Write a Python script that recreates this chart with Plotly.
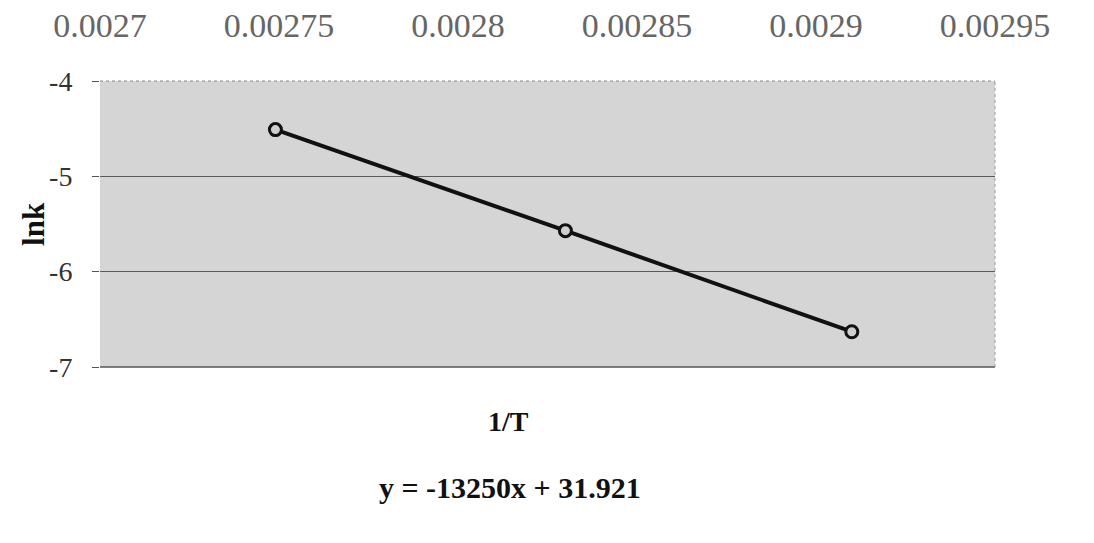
import plotly.graph_objects as go

inv_T = [0.002749, 0.00283, 0.00291]
ln_k = [-4.51, -5.57, -6.63]
x_ticks = [0.0027, 0.00275, 0.0028, 0.00285, 0.0029, 0.00295]
x_tick_labels = ["0.0027", "0.00275", "0.0028", "0.00285", "0.0029", "0.00295"]
y_ticks = [-7, -6, -5, -4]
y_tick_labels = ["-7", "-6", "-5", "-4"]
x_title = "1/T"
y_title = "lnk"
equation = "y = -13250x + 31.921"

fig = go.Figure()
fig.add_trace(go.Scatter(
    x=inv_T, y=ln_k, mode="lines+markers",
    line=dict(color="#111111", width=4),
    marker=dict(symbol="circle", size=12, color="#cfcfcf",
                line=dict(color="#111111", width=3)),
    showlegend=False,
))

serif = "Liberation Serif, Times New Roman, serif"
fig.update_layout(
    width=1094, height=543,
    margin=dict(l=92, r=107, t=73, b=184),
    paper_bgcolor="white",
    plot_bgcolor="#d5d5d5",
    font=dict(family=serif, color="#222"),
    xaxis=dict(
        side="top", range=[0.0027, 0.00295], automargin=False,
        tickvals=x_ticks, ticktext=x_tick_labels,
        tickfont=dict(family=serif, size=34, color="#666"),
        ticks="", ticklabelstandoff=36,
        showgrid=False, zeroline=False, showline=False,
    ),
    yaxis=dict(
        range=[-7, -4], tickvals=y_ticks, ticktext=y_tick_labels, automargin=False,
        tickfont=dict(family=serif, size=28, color="#333"),
        ticks="outside", ticklen=7, tickcolor="#555", ticklabelstandoff=14,
        showgrid=True, gridcolor="#5a5a5a", gridwidth=1,
        zeroline=False, showline=False,
    ),
    shapes=[
        dict(type="line", xref="paper", yref="paper", x0=0, x1=1, y0=0, y1=0,
             line=dict(color="#555", width=1.5)),
        dict(type="line", xref="paper", yref="paper", x0=0, x1=1, y0=1, y1=1,
             line=dict(color="#888", width=1, dash="dot")),
        dict(type="line", xref="paper", yref="paper", x0=1, x1=1, y0=0, y1=1,
             line=dict(color="#999", width=1, dash="dot")),
    ],
    annotations=[
        dict(text=f"<b>{y_title}</b>", xref="paper", yref="paper",
             x=-0.075, y=0.5, xanchor="center", yanchor="middle",
             textangle=-90, showarrow=False,
             font=dict(family=serif, size=31, color="#111")),
        dict(text=f"<b>{x_title}</b>", xref="paper", yref="paper",
             x=0.456, y=-0.19, xanchor="center", yanchor="middle", showarrow=False,
             font=dict(family=serif, size=28, color="#111")),
        dict(text=f"<b>{equation}</b>", xref="paper", yref="paper",
             x=0.458, y=-0.42, xanchor="center", yanchor="middle", showarrow=False,
             font=dict(family=serif, size=30, color="#111")),
    ],
)

fig.write_html("out.html")
